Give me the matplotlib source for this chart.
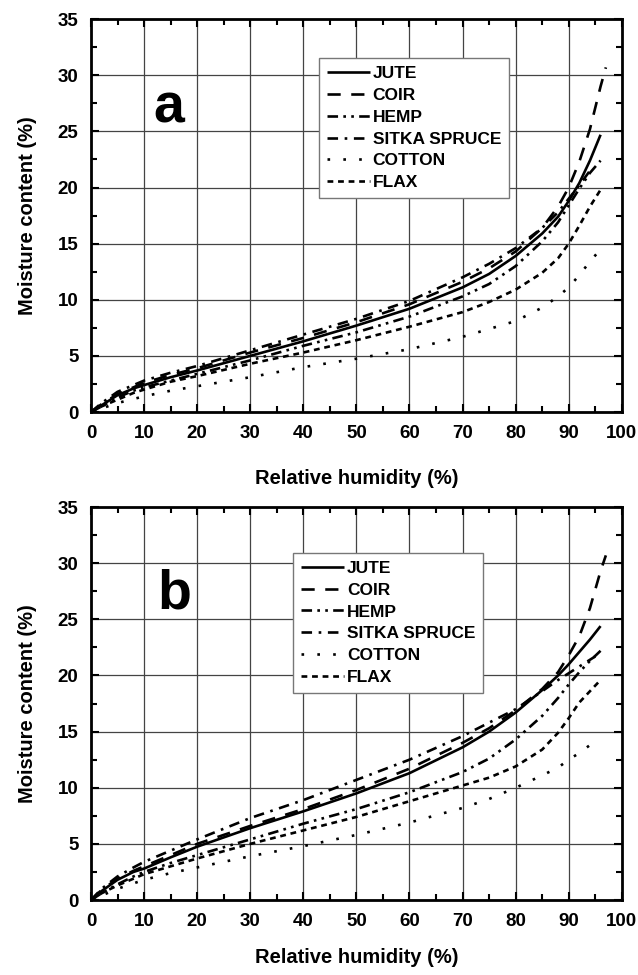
import matplotlib
matplotlib.use("Agg")
import matplotlib.pyplot as plt
from matplotlib.ticker import MultipleLocator

plt.rcParams['font.family'] = ['Liberation Sans', 'DejaVu Sans']
plt.rcParams['font.weight'] = 'bold'

# ---------------- data ----------------
names = ["JUTE", "COIR", "HEMP", "SITKA SPRUCE", "COTTON", "FLAX"]

# panel a
a_jute_rh = [0, 2, 5, 8, 10, 15, 20, 30, 40, 50, 60, 70, 75, 80, 85, 88, 90, 92, 94, 96]
a_jute_mc = [0, 0.6, 1.5, 2.1, 2.4, 3.1, 3.7, 5.0, 6.3, 7.7, 9.2, 11.1, 12.3, 13.9, 15.9, 17.4, 18.8, 20.4, 22.4, 24.7]
a_coir_rh = [0, 2, 5, 8, 10, 15, 20, 30, 40, 50, 60, 70, 75, 80, 85, 88, 90, 92, 94, 96, 97]
a_coir_mc = [0, 0.7, 1.6, 2.2, 2.6, 3.3, 3.9, 5.3, 6.6, 8.0, 9.6, 11.6, 12.8, 14.3, 16.4, 18.3, 20.0, 22.3, 25.2, 29.0, 30.7]
a_hemp_rh = [0, 2, 5, 8, 10, 15, 20, 30, 40, 50, 60, 70, 75, 80, 85, 88, 90, 92, 94, 96]
a_hemp_mc = [0, 0.5, 1.3, 1.9, 2.2, 2.8, 3.4, 4.6, 5.9, 7.1, 8.5, 10.3, 11.4, 13.0, 15.2, 16.9, 18.4, 19.9, 21.3, 22.4]
a_sitka_rh = [0, 2, 5, 8, 10, 15, 20, 30, 40, 50, 60, 70, 75, 80, 85, 88, 90, 92, 94]
a_sitka_mc = [0, 0.8, 1.8, 2.4, 2.8, 3.5, 4.1, 5.5, 6.9, 8.3, 9.9, 12.0, 13.2, 14.6, 16.4, 17.8, 19.0, 20.2, 21.5]
a_cotton_rh = [0, 5, 10, 15, 20, 30, 40, 50, 60, 70, 75, 80, 85, 88, 90, 92, 94, 96]
a_cotton_mc = [0, 0.8, 1.4, 1.9, 2.3, 3.1, 4.0, 4.75, 5.6, 6.7, 7.4, 8.1, 9.3, 10.3, 11.1, 12.2, 13.4, 14.5]
a_flax_rh = [0, 2, 5, 8, 10, 15, 20, 30, 40, 50, 60, 70, 75, 80, 85, 88, 90, 92, 94, 96]
a_flax_mc = [0, 0.5, 1.1, 1.7, 2.0, 2.7, 3.2, 4.3, 5.3, 6.4, 7.6, 8.9, 9.8, 10.9, 12.4, 13.7, 15.0, 16.6, 18.3, 19.8]

# panel b
b_jute_rh = [0, 2, 5, 8, 10, 15, 20, 30, 40, 50, 60, 70, 75, 80, 85, 88, 90, 92, 94, 96]
b_jute_mc = [0, 0.8, 1.8, 2.5, 2.8, 3.8, 4.75, 6.4, 7.9, 9.5, 11.3, 13.6, 15.0, 16.7, 18.7, 20.0, 21.0, 22.1, 23.2, 24.4]
b_coir_rh = [0, 2, 5, 8, 10, 15, 20, 30, 40, 50, 60, 70, 75, 80, 85, 88, 90, 92, 94, 96, 97]
b_coir_mc = [0, 0.9, 1.9, 2.6, 3.0, 4.0, 5.0, 6.6, 8.1, 9.8, 11.7, 14.0, 15.3, 16.9, 18.8, 20.3, 21.8, 23.5, 26.0, 29.3, 30.7]
b_hemp_rh = [0, 2, 5, 8, 10, 15, 20, 30, 40, 50, 60, 70, 75, 80, 85, 88, 90, 92, 94, 96]
b_hemp_mc = [0, 0.6, 1.4, 2.1, 2.5, 3.3, 4.0, 5.4, 6.8, 8.1, 9.6, 11.4, 12.6, 14.3, 16.4, 18.0, 19.2, 20.3, 21.3, 22.2]
b_sitka_rh = [0, 2, 5, 8, 10, 15, 20, 30, 40, 50, 60, 70, 75, 80, 85, 88, 90, 92, 94, 95]
b_sitka_mc = [0, 1.0, 2.1, 2.9, 3.4, 4.4, 5.4, 7.3, 8.9, 10.7, 12.5, 14.6, 15.8, 17.0, 18.6, 19.6, 20.2, 20.8, 21.4, 21.7]
b_cotton_rh = [0, 5, 10, 15, 20, 30, 40, 50, 60, 70, 75, 80, 85, 88, 90, 92, 94]
b_cotton_mc = [0, 1.0, 1.8, 2.4, 2.9, 3.9, 4.8, 5.8, 6.9, 8.2, 9.0, 10.0, 11.1, 11.8, 12.5, 13.1, 13.8]
b_flax_rh = [0, 2, 5, 8, 10, 15, 20, 30, 40, 50, 60, 70, 75, 80, 85, 88, 90, 92, 94, 96]
b_flax_mc = [0, 0.6, 1.3, 1.9, 2.3, 3.0, 3.7, 5.0, 6.2, 7.4, 8.8, 10.2, 10.9, 11.9, 13.4, 14.9, 16.2, 17.6, 18.6, 19.6]

x_ticks = [0, 10, 20, 30, 40, 50, 60, 70, 80, 90, 100]
y_ticks = [0, 5, 10, 15, 20, 25, 30, 35]
panel_letters = ["a", "b"]

styles = {
    "JUTE": (0, ()),
    "COIR": (0, (5, 4)),
    "HEMP": (0, (4, 2, 1, 2, 1, 2)),
    "SITKA SPRUCE": (0, (4, 2.5, 1, 2.5)),
    "COTTON": (0, (1, 5)),
    "FLAX": (0, (2.2, 1.8)),
}

panels = [
    [(a_jute_rh, a_jute_mc), (a_coir_rh, a_coir_mc), (a_hemp_rh, a_hemp_mc),
     (a_sitka_rh, a_sitka_mc), (a_cotton_rh, a_cotton_mc), (a_flax_rh, a_flax_mc)],
    [(b_jute_rh, b_jute_mc), (b_coir_rh, b_coir_mc), (b_hemp_rh, b_hemp_mc),
     (b_sitka_rh, b_sitka_mc), (b_cotton_rh, b_cotton_mc), (b_flax_rh, b_flax_mc)],
]

fig = plt.figure(figsize=(6.38, 9.75), dpi=100)
axes_pos = [[0.1426, 0.5774, 0.832, 0.403], [0.1426, 0.0769, 0.832, 0.403]]
legend_pos = [(0.429, 0.90), (0.381, 0.883)]
letter_pos = [(14.6, 27.0), (15.6, 27.2)]
xlabel_pads = [20, 13]

for i, ax_rect in enumerate(axes_pos):
    ax = fig.add_axes(ax_rect)
    for name, (rh, mc) in zip(names, panels[i]):
        ax.plot(rh, mc, color='black', lw=1.9, linestyle=styles[name], label=name)
    ax.set_xlim(0, 100)
    ax.set_ylim(0, 35)
    ax.set_xticks(x_ticks)
    ax.set_yticks(y_ticks)
    ax.xaxis.set_minor_locator(MultipleLocator(5))
    ax.yaxis.set_minor_locator(MultipleLocator(2.5))
    ax.grid(True, which='major', color='#444444', lw=0.9)
    ax.set_axisbelow(True)
    ax.tick_params(which='both', direction='in', top=True, right=True,
                   labelsize=13.5, width=1.5)
    ax.tick_params(axis='x', pad=9)
    ax.tick_params(axis='y', pad=9)
    ax.tick_params(which='major', length=6)
    ax.tick_params(which='minor', length=4)
    for lab in ax.get_xticklabels() + ax.get_yticklabels():
        lab.set_fontweight('bold')
    for sp in ax.spines.values():
        sp.set_linewidth(2)
    ax.set_xlabel("Relative humidity (%)", fontsize=14.5, fontweight='bold',
                  labelpad=xlabel_pads[i])
    ax.set_ylabel("Moisture content (%)", fontsize=14.5, fontweight='bold', labelpad=15)
    ax.text(letter_pos[i][0], letter_pos[i][1], panel_letters[i], fontsize=40,
            fontweight='bold', ha='center', va='center')
    leg = ax.legend(loc='upper left', bbox_to_anchor=legend_pos[i], frameon=True,
                    fancybox=False, edgecolor='#777777', framealpha=1,
                    prop={'weight': 'bold', 'size': 12.5}, handlelength=2.5,
                    handletextpad=0.15, labelspacing=0.38, borderpad=0.45,
                    borderaxespad=0)
    leg.get_frame().set_linewidth(1.0)

fig.savefig("out.png", dpi=100)
